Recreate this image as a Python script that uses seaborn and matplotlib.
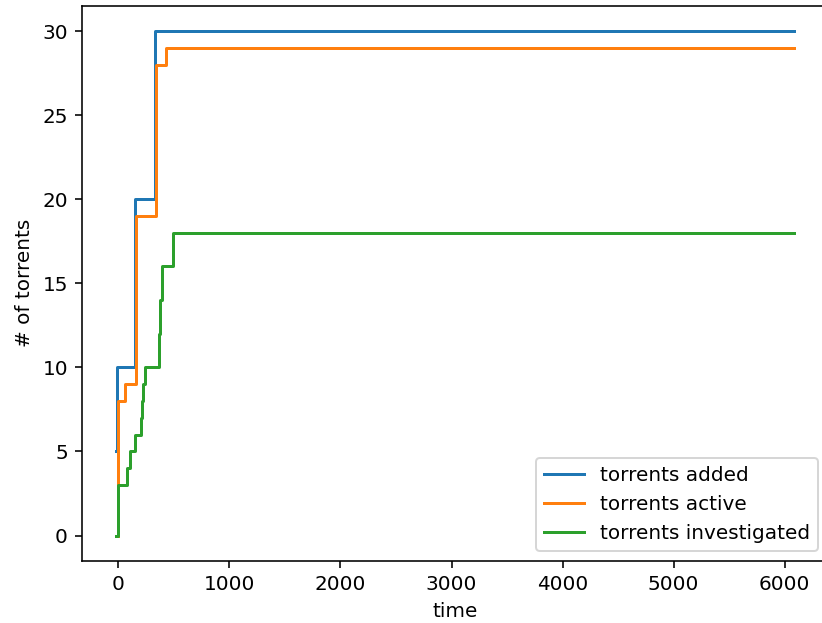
import matplotlib
matplotlib.use("Agg")
import matplotlib.pyplot as plt
import seaborn as sns
import pandas as pd

# ---- data ----
added_t = [-20, -15, 149, 328, 6085]
added_v = [5, 10, 20, 30, 30]

active_t = [-5, 0, 58, 158, 343, 425, 6085]
active_v = [0, 8, 9, 19, 28, 29, 29]

invest_t = [-22, 0, 74, 103, 149, 200, 214, 225, 239, 368, 378, 389, 488, 6085]
invest_v = [0, 3, 4, 5, 6, 7, 8, 9, 10, 12, 14, 16, 18, 18]

series_names = ["torrents added", "torrents active", "torrents investigated"]
colors = ["#1f77b4", "#ff7f0e", "#2ca02c"]

frames = []
for name, t, v in zip(series_names, [added_t, active_t, invest_t], [added_v, active_v, invest_v]):
    frames.append(pd.DataFrame({"time": t, "count": v, "series": name}))
df = pd.concat(frames, ignore_index=True)

fig = plt.figure(figsize=(822 / 144, 623 / 144), dpi=144)
ax = fig.add_axes([82 / 822, 1 - 560.8 / 623, (828 - 82) / 822, (560.8 - 5.8) / 623])

sns.lineplot(data=df, x="time", y="count", hue="series", hue_order=series_names,
             palette=colors, estimator=None, drawstyle="steps-post", linewidth=1.5, ax=ax)

ax.set_xlabel("time")
ax.set_ylabel("# of torrents")
ax.set_xticks([0, 1000, 2000, 3000, 4000, 5000, 6000])
ax.set_yticks([0, 5, 10, 15, 20, 25, 30])

handles, labels = ax.get_legend_handles_labels()
ax.legend(handles, labels, loc="lower right")

fig.savefig("out.png", dpi=144)
